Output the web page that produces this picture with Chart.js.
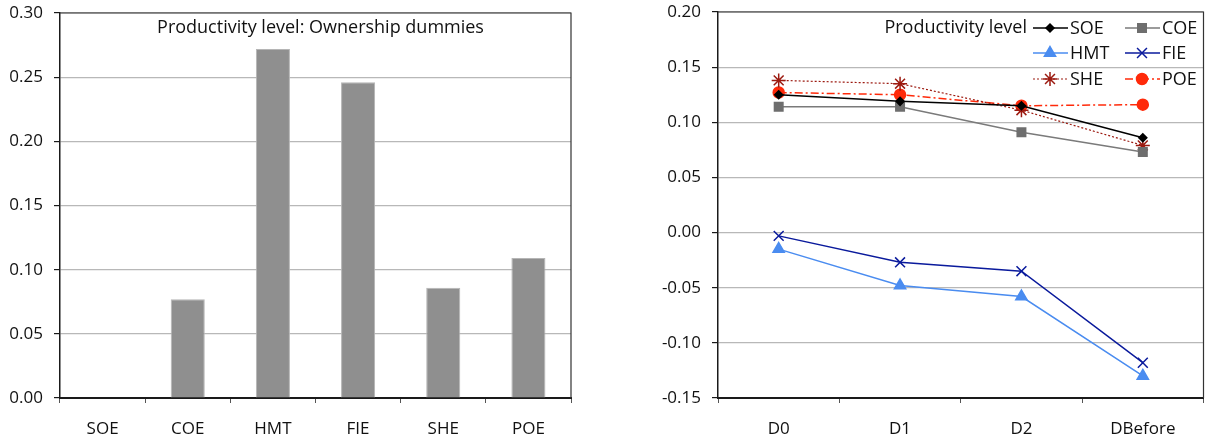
<!DOCTYPE html>
<html>
<head>
<meta charset="utf-8">
<script src="https://cdn.jsdelivr.net/npm/chart.js@4/dist/chart.umd.min.js"></script>
<style>
  html, body { margin: 0; padding: 0; background: #fff; overflow: hidden; }
  #wrap { position: relative; width: 1209px; height: 440px; overflow: hidden; }
  #left { position: absolute; left: 0; top: 0; }
  #right { position: absolute; left: 640px; top: 0; }
</style>
</head>
<body>
<div id="wrap">
  <canvas id="left" width="572" height="440"></canvas>
  <canvas id="right" width="572" height="440"></canvas>
</div>
<script>
'use strict';

// left chart: ownership dummies
var ownerCats = ['SOE', 'COE', 'HMT', 'FIE', 'SHE', 'POE'];
var ownerVals = [0, 0.077, 0.272, 0.246, 0.086, 0.109];
var leftTitle = 'Productivity level: Ownership dummies';

// right chart: timing dummies by ownership
var timeCats = ['D0', 'D1', 'D2', 'DBefore'];
var soeVals = [0.125, 0.119, 0.115, 0.086];
var coeVals = [0.114, 0.114, 0.091, 0.073];
var hmtVals = [-0.015, -0.048, -0.058, -0.130];
var fieVals = [-0.003, -0.027, -0.035, -0.118];
var sheVals = [0.138, 0.135, 0.111, 0.079];
var poeVals = [0.127, 0.125, 0.115, 0.116];
var rightTitle = 'Productivity level';

var FONT = '"Open Sans", Lato, sans-serif';
var LABEL_FONT = '18px ' + FONT;

Chart.defaults.font.family = FONT;
Chart.defaults.font.size = 17;
Chart.defaults.color = '#111';

var AXIS = '#1a1a1a';
var GRID = '#b8b8b8';

// top / right frame of the plot area
var framePlugin = {
  id: 'frame',
  afterDraw: function(chart) {
    var a = chart.chartArea, ctx = chart.ctx;
    ctx.save();
    ctx.strokeStyle = '#333';
    ctx.lineWidth = 1.2;
    ctx.beginPath();
    ctx.moveTo(a.left, a.top);
    ctx.lineTo(a.right, a.top);
    ctx.lineTo(a.right, a.bottom);
    ctx.stroke();
    ctx.restore();
  }
};

var leftTitlePlugin = {
  id: 'leftTitle',
  afterDraw: function(chart) {
    var a = chart.chartArea, ctx = chart.ctx;
    ctx.save();
    ctx.fillStyle = '#111';
    ctx.font = LABEL_FONT;
    ctx.textAlign = 'center';
    ctx.textBaseline = 'middle';
    ctx.fillText(leftTitle, (a.left + a.right) / 2 + 5, a.top + 15);
    ctx.restore();
  }
};

// legend in two columns with a lead-in label, inside the plot area
var gridLegendPlugin = {
  id: 'gridLegend',
  afterDraw: function(chart) {
    var a = chart.chartArea, ctx = chart.ctx;
    var colX = [a.left + 315, a.left + 407];
    var rowY = [a.top + 16, a.top + 41, a.top + 67];
    ctx.save();
    ctx.font = LABEL_FONT;
    ctx.fillStyle = '#111';
    ctx.textBaseline = 'middle';
    ctx.textAlign = 'right';
    ctx.fillText(rightTitle, colX[0] - 6, rowY[0]);
    ctx.textAlign = 'left';
    chart.data.datasets.forEach(function(ds, i) {
      var x = colX[i % 2], y = rowY[Math.floor(i / 2)];
      ctx.save();
      ctx.strokeStyle = ds.borderColor;
      ctx.lineWidth = ds.borderWidth;
      ctx.setLineDash(ds.borderDash || []);
      ctx.beginPath();
      ctx.moveTo(x, y);
      ctx.lineTo(x + 35, y);
      ctx.stroke();
      ctx.setLineDash([]);
      ctx.fillStyle = ds.pointBackgroundColor;
      ctx.strokeStyle = ds.pointBorderColor;
      ctx.lineWidth = ds.pointBorderWidth;
      Chart.helpers.drawPoint(ctx, {
        pointStyle: ds.pointStyle,
        radius: ds.pointRadius,
        borderWidth: ds.pointBorderWidth,
        rotation: 0
      }, x + 17, y);
      ctx.restore();
      ctx.fillText(ds.label, x + 37, y + 1);
    });
    ctx.restore();
  }
};

function yScale(min, max, width) {
  return {
    min: min,
    max: max,
    afterFit: function(s) {
      s.width = width;
      s.paddingTop = 0;
      s.paddingBottom = 0;
    },
    ticks: {
      stepSize: 0.05,
      padding: 11,
      color: '#111',
      callback: function(v) { return Number(v).toFixed(2); }
    },
    grid: { color: GRID, lineWidth: 1.2, tickColor: AXIS, tickLength: 6 },
    border: { color: AXIS, width: 1.5 }
  };
}

function xScale() {
  return {
    offset: true,
    afterFit: function(s) {
      s.height = 42;
      s.paddingLeft = 0;
      s.paddingRight = 0;
    },
    ticks: { padding: 16, color: '#111', autoSkip: false, maxRotation: 0 },
    grid: { offset: true, drawOnChartArea: false, tickColor: '#555', tickLength: 5 },
    border: { color: AXIS, width: 2 }
  };
}

new Chart(document.getElementById('left'), {
  type: 'bar',
  data: {
    labels: ownerCats,
    datasets: [{
      label: leftTitle,
      data: ownerVals,
      backgroundColor: '#8f8f8f',
      borderColor: '#b5b5b5',
      borderWidth: 1,
      categoryPercentage: 1,
      barPercentage: 0.4
    }]
  },
  options: {
    responsive: false,
    animation: false,
    layout: { padding: { top: 13, right: 1, left: 0, bottom: 0 } },
    plugins: { legend: { display: false }, tooltip: { enabled: false } },
    scales: {
      x: xScale(),
      y: yScale(0, 0.3, 60)
    }
  },
  plugins: [framePlugin, leftTitlePlugin]
});

function series(label, data, color, style, radius, dash, width, fill) {
  return {
    label: label,
    data: data,
    borderColor: color,
    borderWidth: width,
    borderDash: dash,
    pointStyle: style,
    pointRadius: radius,
    pointBorderWidth: 1.5,
    pointBackgroundColor: fill,
    pointBorderColor: fill,
    tension: 0,
    fill: false
  };
}

new Chart(document.getElementById('right'), {
  type: 'line',
  data: {
    labels: timeCats,
    datasets: [
      series('SOE', soeVals, '#000000', 'rectRot', 4, [], 1.5, '#000000'),
      series('COE', coeVals, '#7a7a7a', 'rect', 6, [], 1.5, '#6e6e6e'),
      series('HMT', hmtVals, '#4a8cf0', 'triangle', 6.5, [], 1.5, '#4a8cf0'),
      series('FIE', fieVals, '#0a1a9c', 'crossRot', 7, [], 1.5, '#0a1a9c'),
      series('SHE', sheVals, '#9c1a10', 'star', 7, [2, 2], 1.2, '#9c1a10'),
      series('POE', poeVals, '#ff2a0a', 'circle', 5.5, [8, 3, 2, 3], 1.5, '#ff2a0a')
    ]
  },
  options: {
    responsive: false,
    animation: false,
    layout: { padding: { top: 12, right: 0, left: 0, bottom: 0 } },
    plugins: { legend: { display: false }, tooltip: { enabled: false } },
    scales: {
      x: xScale(),
      y: yScale(-0.15, 0.2, 78)
    }
  },
  plugins: [framePlugin, gridLegendPlugin]
});
</script>
</body>
</html>
